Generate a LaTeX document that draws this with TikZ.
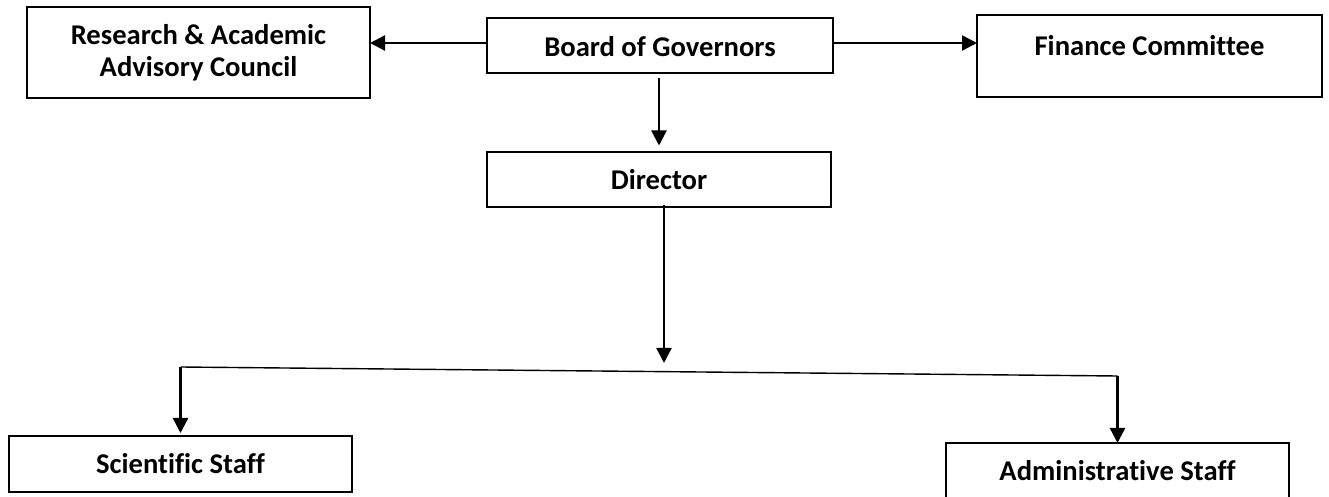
\documentclass[tikz,border=0pt]{standalone}
\usepackage{fontspec}
\setmainfont[Ligatures=NoCommon]{Carlito}
\usetikzlibrary{arrows.meta}
\begin{document}
\begin{tikzpicture}[x=0.5pt,y=-0.5pt,
  box/.style={draw, line width=1pt, inner sep=0pt, outer sep=0pt, align=center,
    font=\fontsize{14.3}{16}\selectfont\bfseries},
  arr/.style={line width=1.2pt, -{Triangle[length=7.5pt,width=7.5pt]}},
  thinline/.style={line width=0.7pt}]
\path[use as bounding box] (0,0) rectangle (1329,497);
\clip (0,0) rectangle (1329,497);
\node[box, minimum width=171.5pt, minimum height=45.5pt] (raac) at (198.5,52.5) {Research \& Academic\\Advisory Council};
\node[box, minimum width=173pt, minimum height=27.5pt, text height=11.5pt, text depth=0pt] (bog) at (660,45.5) {Board of Governors};
\node[box, minimum width=172.5pt, minimum height=41pt, text depth=11pt] (fin) at (1149.5,56) {Finance Committee};
\node[box, minimum width=172pt, minimum height=27.5pt] (dir) at (659,180) {Director};
\node[box, minimum width=171.5pt, minimum height=28pt] (sci) at (180.5,464) {Scientific Staff};
\node[box, minimum width=171.5pt, minimum height=28pt] (adm) at (1117.5,471) {Administrative Staff};
\coordinate (dtip) at (664,363);
\coordinate (bl) at (180.5,367);
\coordinate (br) at (1117.5,376);
\draw[arr] ([yshift=1.25pt]bog.west) -- ([yshift=1.25pt]bog.west -| raac.east);
\draw[arr] ([yshift=1.25pt]bog.east) -- ([yshift=1.25pt]bog.east -| fin.west);
\draw[arr, shorten <=2.5pt, shorten >=3.5pt] (dir.north |- bog.south) -- (dir.north);
\draw[arr] ([xshift=2.5pt,yshift=1pt]dir.south) -- (dtip);
\draw[thinline] (bl) -- (br);
\draw[arr, shorten >=1.5pt] (bl) -- (sci.north);
\draw[arr] (br) -- (adm.north);
\end{tikzpicture}
\end{document}
